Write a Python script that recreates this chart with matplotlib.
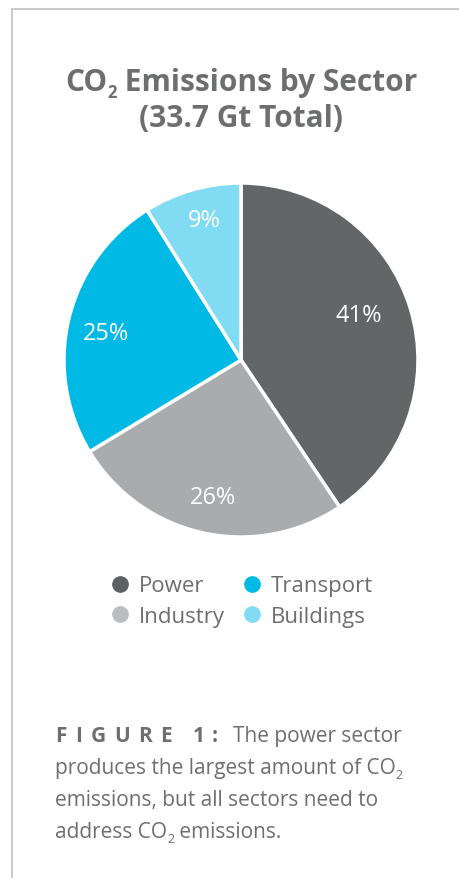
import matplotlib
matplotlib.use("Agg")
import matplotlib.pyplot as plt
from matplotlib.lines import Line2D
import numpy as np

sectors = ["Power", "Industry", "Transport", "Buildings"]
shares = [41, 26, 25, 9]
labels = ["41%", "26%", "25%", "9%"]
wedge_colors = ["#636667", "#aaabad", "#00b9e4", "#80dbf3"]
legend_colors = ["#5f6062", "#bcbdbf", "#00b9e4", "#80dbf3"]
label_radii = [0.71, 0.79, 0.78, 0.82]
label_angle_shift = [4, 1, 2, -1.5]

plt.rcParams['font.family'] = ['Open Sans', 'DejaVu Sans']

W, H = 460, 879
fig = plt.figure(figsize=(W / 100, H / 100), dpi=100)
fig.patch.set_facecolor("white")
renderer = fig.canvas.get_renderer()

def fx(px):
    return px / W

def fy(py):
    return 1 - py / H

def space_width(fs, wt):
    probe = fig.text(0, 0, "a a", fontsize=fs, fontweight=wt)
    w3 = probe.get_window_extent(renderer).width
    probe.set_text("aa")
    w2 = probe.get_window_extent(renderer).width
    probe.remove()
    return w3 - w2

def run_text(pieces, x0, y_base, align="left", color="#6d6e70"):
    """pieces: list of (text, fontsize, weight, dy_px, tracking_px) or ('GAP', px)."""
    arts = []
    x = 0.0
    for p in pieces:
        if p[0] == "GAP":
            x += p[1]
            continue
        txt, fs, wt, dy, track = p
        chars = list(txt) if track else [txt]
        for i, ch in enumerate(chars):
            t = fig.text(0, fy(y_base + dy), ch, ha="left", va="baseline",
                         fontsize=fs, fontweight=wt, color=color)
            arts.append((t, x))
            w = space_width(fs, wt) if ch == " " else t.get_window_extent(renderer).width
            x += w + (track if i < len(chars) - 1 else 0)
    total = x
    start = x0 - total / 2 if align == "center" else x0
    for t, off in arts:
        t.set_x(fx(start + off))
    return start + total

# frame lines
fig.add_artist(Line2D([fx(12), fx(460)], [fy(9.5), fy(9.5)], color="#c6c6c6", lw=1.3))
fig.add_artist(Line2D([fx(12), fx(12)], [fy(9.5), fy(879)], color="#c6c6c6", lw=1.3))

# title
tfs = 21.5
run_text([("CO", tfs, "bold", 0, 0), ("2", 12, "bold", 7, 0),
          (" Emissions by Sector", tfs, "bold", 0, 0)], 241, 91, align="center")
run_text([("(33.7 Gt Total)", tfs, "bold", 0, 0)], 241, 127, align="center")

# pie
cx, cy, r = 241, 361, 177
ax = fig.add_axes([fx(cx - r), fy(cy + r), 2 * r / W, 2 * r / H])
wedges, _ = ax.pie(shares, colors=wedge_colors, startangle=90, counterclock=False,
                   wedgeprops=dict(edgecolor="white", linewidth=2.5))
for w, lab, rr, da in zip(wedges, labels, label_radii, label_angle_shift):
    ang = np.deg2rad((w.theta1 + w.theta2) / 2 + da)
    ax.text(rr * np.cos(ang), rr * np.sin(ang), lab, ha="center", va="center",
            color="white", fontsize=17, fontweight="normal")
ax.set_xlim(-1, 1)
ax.set_ylim(-1, 1)
ax.set_aspect("equal")
ax.axis("off")

# legend
handles = [Line2D([], [], marker="o", linestyle="none", markersize=11,
                  markerfacecolor=c, markeredgecolor=c) for c in legend_colors]
leg = fig.legend(handles, sectors, ncol=2, loc="center", bbox_to_anchor=(fx(241), fy(602)),
                 frameon=False, fontsize=16, handletextpad=0.35, columnspacing=0.7,
                 labelspacing=0.42, handlelength=1.0, labelcolor="#6d6e70")

# caption
ccol = "#6d6e70"
fs = 15
run_text([("FIGURE", fs, "bold", 0, 8.5), ("GAP", 21), ("1", fs, "bold", 0, 0), ("GAP", 7),
          (":", fs, "bold", 0, 0), ("GAP", 15),
          ("The power sector", fs, "normal", 0, 0)], 55, 742)
run_text([("produces the largest amount of CO", fs, "normal", 0, 0), ("2", 9, "normal", 5, 0)],
         55, 774)
run_text([("emissions, but all sectors need to", fs, "normal", 0, 0)], 55, 806)
run_text([("address CO", fs, "normal", 0, 0), ("2", 9, "normal", 5, 0),
          (" emissions.", fs, "normal", 0, 0)], 55, 838)

fig.savefig("out.png", dpi=100, facecolor="white")
